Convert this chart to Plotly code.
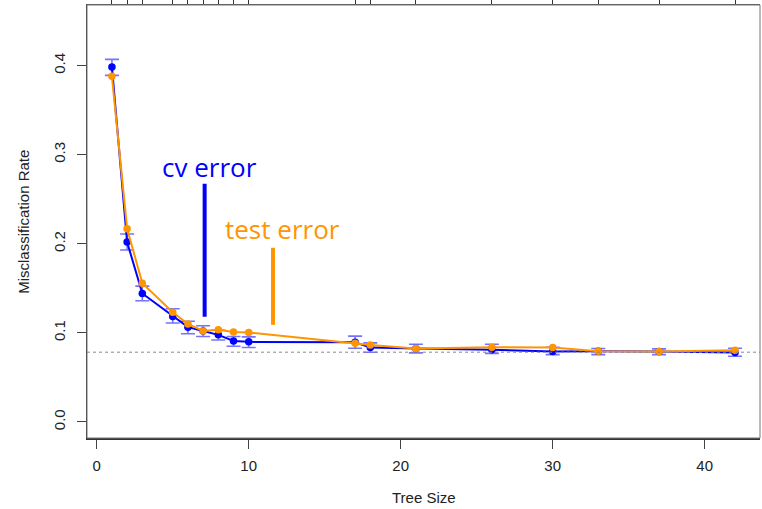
import plotly.graph_objects as go

# ---- data ----
tree_sizes = [1, 2, 3, 5, 6, 7, 8, 9, 10, 17, 18, 21, 26, 30, 33, 37, 42]
cv_error = [0.3985, 0.2019, 0.1442, 0.1183, 0.1064, 0.1020, 0.0978, 0.0910, 0.0899,
            0.0895, 0.0835, 0.0824, 0.0810, 0.0790, 0.0794, 0.0790, 0.0779]
cv_upper = [0.407, 0.211, 0.1525, 0.127, 0.113, 0.108, 0.103, 0.096, 0.0955,
            0.0963, 0.0888, 0.0873, 0.0873, 0.0839, 0.0824, 0.0820, 0.0828]
cv_lower = [0.389, 0.193, 0.136, 0.111, 0.099, 0.096, 0.092, 0.085, 0.0835,
            0.0828, 0.0783, 0.0775, 0.0770, 0.0756, 0.0756, 0.0756, 0.0738]
test_error = [0.388, 0.2169, 0.1558, 0.1232, 0.1100, 0.1022, 0.1034, 0.1010, 0.1004,
              0.0884, 0.0865, 0.0824, 0.0839, 0.0835, 0.0794, 0.0790, 0.0805]
one_se_threshold = 0.0783
y_ticks = [0.0, 0.1, 0.2, 0.3, 0.4]
x_ticks = [0, 10, 20, 30, 40]

BLUE = "#0000FF"
ORANGE = "#FF9500"
XR = [-0.64, 43.64]
YR = [-0.018, 0.468]

err_plus = [h - c for h, c in zip(cv_upper, cv_error)]
err_minus = [c - l for c, l in zip(cv_error, cv_lower)]

fig = go.Figure()

fig.add_trace(go.Scatter(
    x=tree_sizes, y=cv_error, mode="lines+markers",
    line=dict(color=BLUE, width=2),
    marker=dict(color=BLUE, size=7.5),
    error_y=dict(type="data", symmetric=False, array=err_plus, arrayminus=err_minus,
                 color="rgba(80,80,255,0.8)", thickness=1.6, width=7),
    showlegend=False,
))
fig.add_trace(go.Scatter(
    x=tree_sizes, y=test_error, mode="lines+markers",
    line=dict(color=ORANGE, width=2),
    marker=dict(color=ORANGE, size=7.5),
    showlegend=False,
))
# invisible trace on top axis for the tree-size ticks
fig.add_trace(go.Scatter(x=tree_sizes, y=test_error, xaxis="x2", mode="markers",
                         marker=dict(opacity=0), hoverinfo="skip", showlegend=False))

# reference dotted line
fig.add_shape(type="line", xref="paper", x0=0, x1=1, yref="y",
              y0=one_se_threshold, y1=one_se_threshold,
              line=dict(color="#888888", width=1, dash="dot"))

# annotation bars
fig.add_shape(type="line", xref="x", yref="y", x0=7.1, x1=7.1, y0=0.118, y1=0.2674,
              line=dict(color=BLUE, width=4))
fig.add_shape(type="line", xref="x", yref="y", x0=11.6, x1=11.6, y0=0.109, y1=0.1955,
              line=dict(color=ORANGE, width=4))
fig.add_annotation(x=7.4, y=0.2865, xref="x", yref="y", text="cv error", showarrow=False,
                   font=dict(family="Open Sans", size=26, color=BLUE))
fig.add_annotation(x=12.2, y=0.2169, xref="x", yref="y", text="test error", showarrow=False,
                   font=dict(family="Open Sans", size=26, color=ORANGE))

# box
fig.add_shape(type="rect", xref="paper", yref="paper", x0=0, x1=1, y0=0, y1=1,
              line=dict(color="#777777", width=1))

# axis titles
fig.add_annotation(x=0.5, y=-0.138, xref="paper", yref="paper", text="Tree Size",
                   showarrow=False, xanchor="center", yanchor="middle",
                   font=dict(family="Liberation Sans", size=15, color="#222"))
fig.add_annotation(x=-0.0946, y=0.5, xref="paper", yref="paper", text="Misclassification Rate",
                   showarrow=False, textangle=-90, xanchor="center", yanchor="middle",
                   font=dict(family="Liberation Sans", size=15, color="#222"))

fig.update_layout(
    width=762, height=509,
    margin=dict(l=87, r=2, t=5, b=71),
    paper_bgcolor="white", plot_bgcolor="white",
    font=dict(family="Liberation Sans", size=15, color="#222"),
    xaxis=dict(range=XR, tickvals=x_ticks, ticktext=[str(v) for v in x_ticks],
               ticks="outside", ticklen=9, tickcolor="#444", tickwidth=1,
               showgrid=False, zeroline=False, showline=True, linecolor="#333",
               linewidth=1.5, ticklabelstandoff=4),
    xaxis2=dict(range=XR, overlaying="x", side="top", tickvals=tree_sizes,
                showticklabels=False, ticks="outside", ticklen=4, tickcolor="#333",
                showgrid=False, zeroline=False, showline=True, linecolor="#555",
                linewidth=1),
    yaxis=dict(range=YR, tickvals=y_ticks, ticktext=[f"{v:.1f}" for v in y_ticks],
               tickangle=-90, ticks="outside", ticklen=9, tickcolor="#444", tickwidth=1,
               showgrid=False, zeroline=False, showline=True, linecolor="#333",
               linewidth=1, ticklabelstandoff=6),
)

fig.write_html("out.html", config={"displayModeBar": False},
               post_script="document.body.style.margin='0';")
